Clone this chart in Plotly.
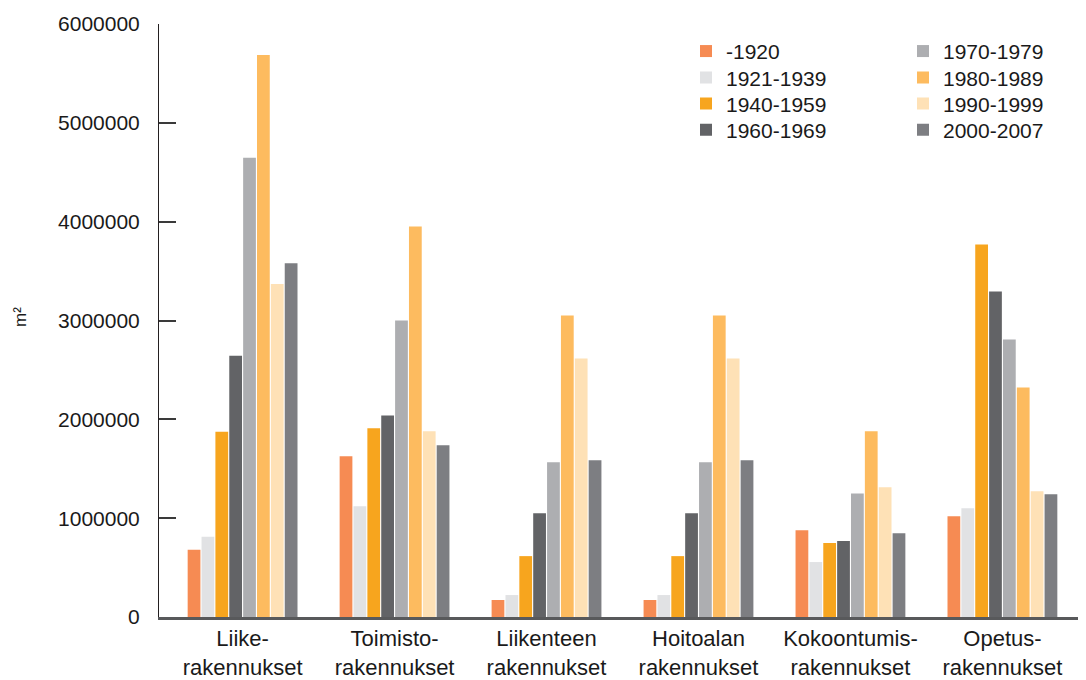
import plotly.graph_objects as go

categories = ["Liike-<br>rakennukset", "Toimisto-<br>rakennukset", "Liikenteen<br>rakennukset",
              "Hoitoalan<br>rakennukset", "Kokoontumis-<br>rakennukset", "Opetus-<br>rakennukset"]

series_names = ["-1920", "1921-1939", "1940-1959", "1960-1969",
                "1970-1979", "1980-1989", "1990-1999", "2000-2007"]

s_1920 = [680000, 1626000, 172000, 172000, 879000, 1020000]
s_1921_1939 = [812000, 1121000, 222000, 222000, 556000, 1101000]
s_1940_1959 = [1875000, 1909000, 616000, 616000, 748000, 3768000]
s_1960_1969 = [2643000, 2040000, 1050000, 1050000, 768000, 3293000]
s_1970_1979 = [4647000, 3000000, 1566000, 1566000, 1250000, 2808000]
s_1980_1989 = [5686000, 3950000, 3050000, 3050000, 1879000, 2323000]
s_1990_1999 = [3369000, 1879000, 2616000, 2616000, 1313000, 1273000]
s_2000_2007 = [3580000, 1737000, 1586000, 1586000, 848000, 1242000]

colors = ["#F68B53", "#E1E2E4", "#F7A51E", "#626366",
          "#ADAEB1", "#FDBB5F", "#FEE1B6", "#7D7E82"]

y_ticks = [0, 1000000, 2000000, 3000000, 4000000, 5000000, 6000000]

all_series = [s_1920, s_1921_1939, s_1940_1959, s_1960_1969,
              s_1970_1979, s_1980_1989, s_1990_1999, s_2000_2007]

FONT = "Liberation Sans, Arial, sans-serif"

# page offset (browser body margin) compensation
OFF = 8
W, H = 1086 - OFF, 680 - OFF
ML, MT, MB, MR = 159 - OFF, 24 - OFF, 61, 0
PW = W - ML - MR
PH = H - MT - MB

def px_to_paper_x(px):
    return (px - OFF - ML) / PW

def px_to_paper_y(py):
    return (H - MB - (py - OFF)) / PH

# legend item positions (screen pixels): left edge of legend box, row centre
legend_cols = [686, 903]
legend_rows = [51.5, 78, 104, 130.5]

fig = go.Figure()
layout_legends = {}
for i, (name, vals, col) in enumerate(zip(series_names, all_series, colors)):
    lname = "legend" if i == 0 else f"legend{i + 1}"
    fig.add_trace(go.Bar(
        x=list(range(len(categories))), y=vals, name=name,
        marker=dict(color=col, line=dict(width=0)),
        legend=lname,
    ))
    c, r = divmod(i, 4)
    layout_legends[lname] = dict(
        x=px_to_paper_x(legend_cols[c]), y=px_to_paper_y(legend_rows[r]),
        xanchor="left", yanchor="middle",
        bgcolor="rgba(0,0,0,0)", font=dict(size=21, color="#1a1a1a"),
        itemclick=False, itemdoubleclick=False,
    )

fig.update_layout(
    width=W, height=H,
    margin=dict(l=ML, r=MR, t=MT, b=MB, pad=0),
    paper_bgcolor="white", plot_bgcolor="white",
    font=dict(family=FONT, size=21, color="#1a1a1a"),
    barmode="group", bargap=0.27, bargroupgap=0.08,
    showlegend=True,
    xaxis=dict(
        tickmode="array", tickvals=list(range(len(categories))), ticktext=categories,
        range=[-0.55, 5.55], showline=True, linecolor="#58595B", linewidth=2.5,
        showgrid=False, zeroline=False, ticks="", tickfont=dict(size=22),
    ),
    yaxis=dict(
        range=[0, 6000000], tickmode="array", tickvals=y_ticks,
        ticktext=[str(v) for v in y_ticks],
        showline=True, linecolor="#231F20", linewidth=1,
        ticks="inside", ticklen=17, tickwidth=1.5, tickcolor="#3a3a3a",
        showgrid=False, zeroline=False, ticklabelstandoff=14,
        tickfont=dict(size=21),
    ),
    annotations=[dict(text="m²", x=px_to_paper_x(20), y=px_to_paper_y(318),
                      xref="paper", yref="paper", xanchor="center", yanchor="middle",
                      showarrow=False, textangle=-90, font=dict(size=17))],
)
fig.update_layout(**layout_legends)

fig.write_html("out.html")
